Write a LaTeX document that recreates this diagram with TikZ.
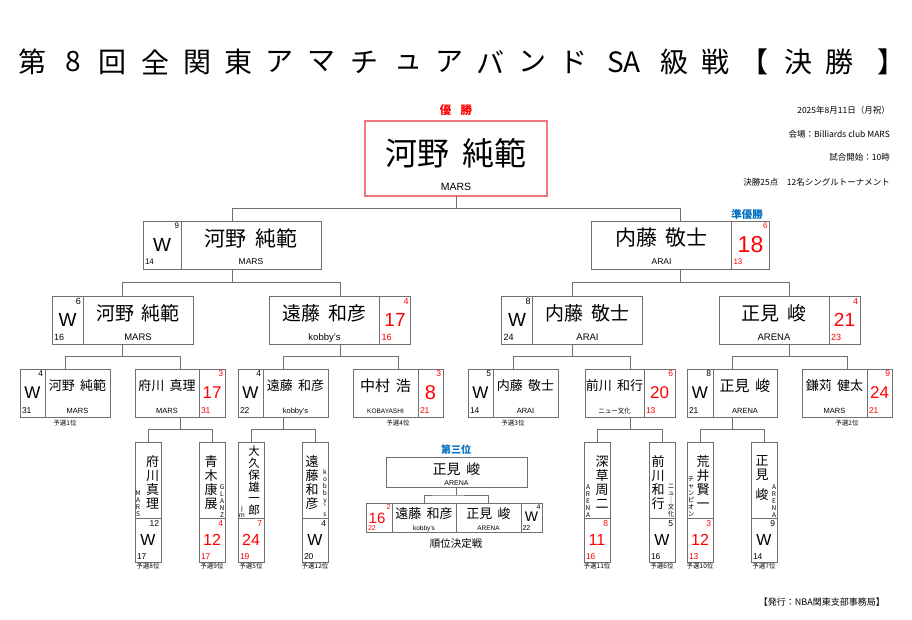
\documentclass[tikz,border=0pt]{standalone}
\usepackage{fontspec}
\setmainfont{Liberation Sans}
\newfontfamily\jp{Noto Sans CJK JP}
\usetikzlibrary{calc}
\definecolor{lc}{HTML}{707070}
\definecolor{rd}{HTML}{FF0000}
\definecolor{bl}{HTML}{0070C0}
\definecolor{chc}{HTML}{F07878}
\newcommand\fs[1]{\fontsize{#1}{#1}\selectfont}
\newcommand\gap{\hspace{0.4em}}
\newcommand\Y{0}
\tikzset{
  box/.style={draw=lc, line width=0.8pt, inner sep=0pt, outer sep=0pt, fill=white},
  cl/.style={draw=lc, line width=0.8pt},
  conn/.style={draw=lc, line width=0.8pt},
  t/.style={inner sep=0pt, outer sep=0pt},
  snf/.style={font=\fs{8}},
  bigf/.style={font=\fs{19}},
  nmf/.style={font=\jp\fs{19}},
  tmf/.style={font=\fs{9}},
  vname/.style={font={\jp\fontsize{13}{14}\selectfont}, align=center},
  vteam/.style={font={\jp\fontsize{6.5}{7}\selectfont}, align=center},
  lab/.style={inner sep=0pt, outer sep=0pt, font=\jp\fs{6.5}},
  ttl/.style={inner sep=0pt, font=\jp\fs{28}},
  info/.style={inner sep=0pt, anchor=east, font=\jp\fs{8.5}},
}
% W cell on the left
\newcommand\plW[9]{%
 \node[box, minimum width=#3pt, minimum height=48pt, anchor=north] (#1) at (#2,\Y) {};
 \draw[cl] ($(#1.north west)+(#4,0)$) -- ($(#1.south west)+(#4,0)$);
 \node[t, nmf] (#1-n) at ($(#1.north)+(#4/2,17)$) {#5};
 \node[t, tmf, anchor=base] (#1-t) at ($(#1.north)+(#4/2,44)$) {#6};
 \node[t, snf, anchor=north east] (#1-a) at ($(#1.north west)+(#4-2,2)$) {#7};
 \node[t, bigf] (#1-w) at ($(#1.north west)+(#4/2,24)$) {#8};
 \node[t, snf, anchor=base west] (#1-c) at ($(#1.north west)+(2,44)$) {#9};
}
% score cell on the right
\newcommand\plS[9]{%
 \node[box, minimum width=#3pt, minimum height=48pt, anchor=north] (#1) at (#2,\Y) {};
 \draw[cl] ($(#1.north east)+(-#4,0)$) -- ($(#1.south east)+(-#4,0)$);
 \node[t, nmf] (#1-n) at ($(#1.north)+(-#4/2,17)$) {#5};
 \node[t, tmf, anchor=base] (#1-t) at ($(#1.north)+(-#4/2,44)$) {#6};
 \node[t, snf, text=rd, anchor=north east] (#1-a) at ($(#1.north east)+(-2,2)$) {#7};
 \node[t, bigf, text=rd] (#1-w) at ($(#1.north east)+(-#4/2,24)$) {#8};
 \node[t, snf, text=rd, anchor=base west] (#1-c) at ($(#1.north east)+(-#4+2,44)$) {#9};
}
% vertical box
\newcommand\vb[9]{%
 \node[box, minimum width=26pt, minimum height=120pt, anchor=north] (#1) at (#2,442) {};
 \draw[cl] ($(#1.north west)+(0,76)$) -- ($(#1.north east)+(0,76)$);
 \node[t, vname, anchor=north] (#1-n) at ($(#1.north)+(#4,14)$) {#3};
 \node[t, vteam, anchor=south] (#1-t) at ($(#1.north)+(#6,75)$) {#5};
 \node[t, snf, anchor=north east] (#1-a) at ($(#1.north east)+(-2,79)$) {#7};
 \node[t, bigf] (#1-w) at ($(#1.north)+(0,98)$) {#8};
 \node[t, snf, anchor=base west] (#1-c) at ($(#1.north west)+(2,117)$) {#9};
}
\newcommand\brk[3]{%
 \draw[conn] (#2.north) |- ($(#1.south)!.5!(#2.north)$) -| (#3.north);
 \draw[conn] (#1.south) -- ($(#1.south)!.5!(#1.south|-#2.north)$);
}
\begin{document}
\begin{tikzpicture}[x=1pt, y=-1pt]
\fill[white] (0,0) rectangle (912,620);
\useasboundingbox (0,0) rectangle (912,620);

% title
\foreach \c/\x in {第/32, 8/73, 回/112, 全/155, 関/197, 東/238, ア/279, マ/321, チ/364, ュ/408, ア/449, バ/490, ン/532, ド/573, SA/624, 級/674, 戦/715, 【/754, 決/798, 勝/839, 】/891}
  \node[ttl] (ttl\x) at (\x,62) {\c};

% info
\node[info] (i1) at (890,110) {2025年8月11日（月祝）};
\node[info] (i2) at (890,134) {会場：Billiards club MARS};
\node[info] (i3) at (890,157) {試合開始：10時};
\node[info] (i4) at (890,182) {決勝25点　12名シングルトーナメント};

% champion
\node[t, text=rd, font=\jp\bfseries\fs{11.5}] (yusho) at (456,110) {優\hspace{0.8em}勝};
\node[draw=chc, line width=1.6pt, fill=white, inner sep=0pt, outer sep=0pt,
      minimum width=182pt, minimum height=75pt, anchor=north] (champ) at (456,121) {};
\node[t, font=\jp\fs{32}] (champ-n) at ($(champ.north)+(0,32)$) {河野\gap 純範};
\node[t, font=\fs{10.5}, anchor=base] (champ-t) at ($(champ.north)+(0,70)$) {MARS};

% level 2
\begin{scope}[snf/.style={font=\fs{8}}, bigf/.style={font=\fs{19}}, nmf/.style={font=\jp\fs{21}}, tmf/.style={font=\fs{8.5}}]
\renewcommand\Y{221}
\plW{L2a}{232}{178}{38}{河野\gap 純範}{MARS}{9}{W}{14}
\plS{L2b}{680.5}{178}{38}{内藤\gap 敬士}{ARAI}{6}{\fs{23}18}{13}
\end{scope}
\node[t, text=bl, font=\jp\bfseries\fs{10.5}] (jun) at (747,215) {準優勝};

% level 3
\begin{scope}[snf/.style={font=\fs{9}}, bigf/.style={font=\fs{19}}, nmf/.style={font=\jp\fs{19}}, tmf/.style={font=\fs{9.5}}]
\renewcommand\Y{296}
\plW{L3a}{122.5}{141}{31}{河野\gap 純範}{MARS}{6}{W}{16}
\plS{L3b}{340}{141}{31}{遠藤\gap 和彦}{kobby's}{4}{17}{16}
\plW{L3c}{572}{141}{31}{内藤\gap 敬士}{ARAI}{8}{W}{24}
\plS{L3d}{789.5}{141}{31}{正見\gap 峻}{ARENA}{4}{21}{23}
\end{scope}

% level 4
\begin{scope}[snf/.style={font=\fs{8.5}}, bigf/.style={font=\fs{17}}, nmf/.style={font=\jp\fs{13}}, tmf/.style={font=\fs{7.5}}]
\renewcommand\Y{369}
\plW{L4a}{65}{90}{25}{河野\gap 純範}{MARS}{4}{W}{31}
\plS{L4b}{180}{90}{26}{府川\gap 真理}{MARS}{3}{17}{31}
\plW{L4c}{283}{90}{25}{遠藤\gap 和彦}{kobby's}{4}{W}{22}
\plS{L4d}{398}{90}{25}{\fs{15}中村\gap 浩}{\fs{6.5}KOBAYASHI}{3}{\fs{20}8}{21}
\plW{L4e}{513}{90}{25}{内藤\gap 敬士}{ARAI}{5}{W}{14}
\plS{L4f}{630}{90}{31}{前川\gap 和行}{\jp\fs{6.5}ニュー文化}{6}{20}{13}
\plW{L4g}{732}{90}{26}{\fs{15}正見\gap 峻}{ARENA}{8}{W}{21}
\plS{L4h}{847}{90}{25}{鎌苅\gap 健太}{MARS}{9}{24}{21}
\end{scope}
\node[lab] (q1) at ($(L4a.south)+(0,6)$) {予選1位};
\node[lab] (q4) at ($(L4d.south)+(0,6)$) {予選4位};
\node[lab] (q3) at ($(L4e.south)+(0,6)$) {予選3位};
\node[lab] (q2) at ($(L4h.south)+(0,6)$) {予選2位};

% level 5 (vertical)
\begin{scope}[snf/.style={font=\fs{8.5}}, bigf/.style={font=\fs{16}}]
\vb{V1}{148}{府\\川\\真\\理}{4.5}{M\\A\\R\\S}{-10}{12}{W}{17}
\vb{V2}{212}{青\\木\\康\\展}{-1}{G\\L\\A\\N\\Z}{10}{\color{rd}4}{\color{rd}12}{\color{rd}17}
\begin{scope}[vname/.style={font={\jp\fontsize{11.5}{11.8}\selectfont}, align=center, yshift=10pt}]
\vb{V3}{251}{大\\久\\保\\雄\\一\\郎}{3}{j\\m}{-9}{\color{rd}7}{\color{rd}24}{\color{rd}19}
\end{scope}
\vb{V4}{315}{遠\\藤\\和\\彦}{-3}{k\\o\\b\\b\\y\\'\\s}{10}{4}{W}{20}
\vb{V5}{597}{深\\草\\周\\二}{5}{A\\R\\E\\N\\A}{-9}{\color{rd}8}{\color{rd}11}{\color{rd}16}
\vb{V6}{662}{前\\川\\和\\行}{-4}{ニ\\ュ\\｜\\文\\化}{9}{5}{W}{16}
\vb{V7}{700}{荒\\井\\賢\\一}{3}{チ\\ャ\\ン\\ピ\\オ\\ン}{-9}{\color{rd}3}{\color{rd}12}{\color{rd}13}
\vb{V8}{764}{正\\見\\[6pt]峻}{-2}{A\\R\\E\\N\\A}{10}{9}{W}{14}
\end{scope}
\node[lab] (q8) at ($(V1.south)+(0,4)$) {予選8位};
\node[lab] (q9) at ($(V2.south)+(0,4)$) {予選9位};
\node[lab] (q5) at ($(V3.south)+(0,4)$) {予選5位};
\node[lab] (q12) at ($(V4.south)+(0,4)$) {予選12位};
\node[lab] (q11) at ($(V5.south)+(0,4)$) {予選11位};
\node[lab] (q6) at ($(V6.south)+(0,4)$) {予選6位};
\node[lab] (q10) at ($(V7.south)+(0,4)$) {予選10位};
\node[lab] (q7) at ($(V8.south)+(0,4)$) {予選7位};

% third place
\node[t, text=bl, font=\jp\bfseries\fs{10}] (dai3) at (456,450) {第三位};
\node[box, minimum width=141pt, minimum height=30pt, anchor=north] (tp) at (456.5,457) {};
\node[t, font=\jp\fs{14}] (tp-n) at ($(tp.north)+(0,12)$) {正見\gap 峻};
\node[t, font=\fs{7}, anchor=base] (tp-t) at ($(tp.north)+(0,28)$) {ARENA};
\node[box, minimum width=26pt, minimum height=29pt, anchor=north west] (tps) at (366,503) {};
\node[box, minimum width=64pt, minimum height=29pt, anchor=north west] (tpa) at (392,503) {};
\node[box, minimum width=65pt, minimum height=29pt, anchor=north west] (tpb) at (456,503) {};
\node[box, minimum width=21pt, minimum height=29pt, anchor=north west] (tpw) at (521,503) {};
\node[t, text=rd, font=\fs{7}, anchor=north east] (tps-a) at ($(tps.north east)+(-1.5,1.5)$) {2};
\node[t, text=rd, font=\fs{15}] (tps-b) at ($(tps.north)+(-2,15)$) {16};
\node[t, text=rd, font=\fs{7}, anchor=base west] (tps-c) at ($(tps.north west)+(2,27.5)$) {22};
\node[t, font=\jp\fs{13}] (tpa-n) at ($(tpa.north)+(0,11)$) {遠藤\gap 和彦};
\node[t, font=\fs{6.5}, anchor=base] (tpa-t) at ($(tpa.north)+(0,27)$) {kobby's};
\node[t, font=\jp\fs{13}] (tpb-n) at ($(tpb.north)+(0,11)$) {正見\gap 峻};
\node[t, font=\fs{6.5}, anchor=base] (tpb-t) at ($(tpb.north)+(0,27)$) {ARENA};
\node[t, font=\fs{7}, anchor=north east] (tpw-a) at ($(tpw.north east)+(-1.5,1.5)$) {4};
\node[t, font=\fs{14}] (tpw-b) at ($(tpw.north)+(0,13.5)$) {W};
\node[t, font=\fs{7}, anchor=base west] (tpw-c) at ($(tpw.north west)+(1.5,27.5)$) {22};
\node[t, font=\jp\fs{10.5}] (juni) at (456,544) {順位決定戦};

% connectors
\brk{champ}{L2a}{L2b}
\brk{L2a}{L3a}{L3b}
\brk{L2b}{L3c}{L3d}
\brk{L3a}{L4a}{L4b}
\brk{L3b}{L4c}{L4d}
\brk{L3c}{L4e}{L4f}
\brk{L3d}{L4g}{L4h}
\brk{L4b}{V1}{V2}
\brk{L4c}{V3}{V4}
\brk{L4f}{V5}{V6}
\brk{L4g}{V7}{V8}
\brk{tp}{tpa}{tpb}

% footer
\node[info, font=\jp\fs{9}] (foot) at (885,602) {【発行：NBA関東支部事務局】};
\end{tikzpicture}
\end{document}
